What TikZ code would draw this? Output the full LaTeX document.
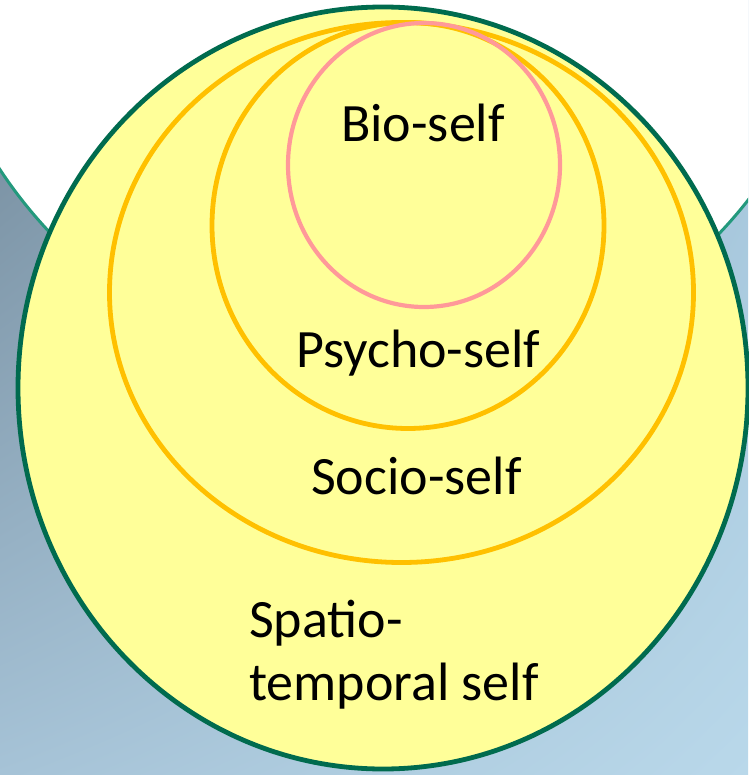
\documentclass[tikz,border=0pt]{standalone}
\usepackage{fontspec}
\setmainfont{Carlito}
\usetikzlibrary{shadings}
\definecolor{ulc}{HTML}{718798}
\definecolor{urc}{HTML}{A2C3D9}
\definecolor{llc}{HTML}{A6C3D7}
\definecolor{lrc}{HTML}{B9D8EA}
\definecolor{tealedge}{HTML}{23997D}
\definecolor{darkgreen}{HTML}{006B4E}
\definecolor{paleyellow}{HTML}{FFFF99}
\definecolor{gold}{HTML}{FFC000}
\definecolor{pinkline}{HTML}{FF9999}
\tikzset{
  ring/.style={line width=4.8pt},
  lbl/.style={font=\fontsize{54}{63}\selectfont, inner sep=0pt, anchor=base west, text=black}
}
\begin{document}
\begin{tikzpicture}[x=1pt,y=-1pt]
\useasboundingbox (0,0) rectangle (748,775);
\begin{scope}
\clip (0,0) rectangle (748,775);
\shade[upper left=ulc, upper right=urc, lower left=llc, lower right=lrc] (0,0) rectangle (748,775);
\fill[white, draw=tealedge, line width=3pt] (385,-84) circle [radius=461pt];
\end{scope}
% outer spatio-temporal self
\path[fill=paleyellow, draw=darkgreen, ring] (383,388) ellipse [x radius=365pt, y radius=381pt];
% socio-self
\draw[gold, ring] (401.5,292.5) ellipse [x radius=292pt, y radius=270pt];
% psycho-self
\draw[gold, ring] (408,225.5) ellipse [x radius=196pt, y radius=203pt];
% bio-self
\draw[pinkline, line width=4.2pt] (424,165) ellipse [x radius=136pt, y radius=142pt];
\node[lbl] (bio) at (341,142) {Bio-self};
\node[lbl] (psycho) at (296,367) {Psycho-self};
\node[lbl] (socio) at (311,494) {Socio-self};
\node[lbl] (spatio1) at (249,637) {Spatio-};
\node[lbl] (spatio2) at (249,700) {temporal self};
\end{tikzpicture}
\end{document}
